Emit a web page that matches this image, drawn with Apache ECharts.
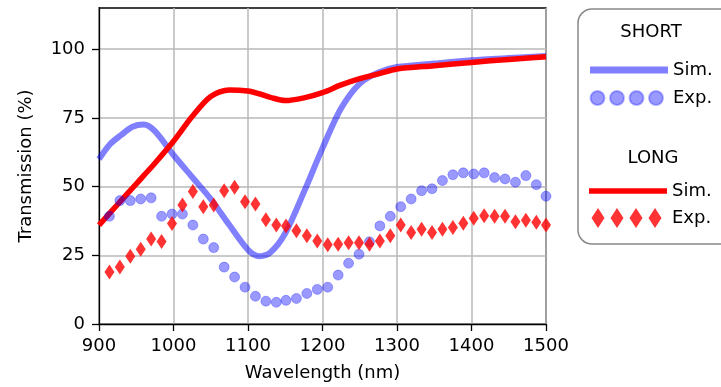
<!DOCTYPE html>
<html>
<head>
<meta charset="utf-8">
<script src="https://cdn.jsdelivr.net/npm/echarts@6/dist/echarts.min.js"></script>
<style>
  html, body { margin: 0; padding: 0; background: #fff; }
  #chart { width: 721px; height: 387px; }
</style>
</head>
<body>
<div id="chart"></div>
<script>
// measured points (nm)
const expWavelength = [914, 928, 942, 956, 970, 984, 998, 1012, 1026, 1040, 1054, 1068, 1082, 1096, 1110,
  1124, 1138, 1151, 1165, 1179, 1193, 1207, 1221, 1235, 1249, 1263, 1277, 1291, 1305, 1319, 1333, 1347,
  1361, 1375, 1389, 1403, 1417, 1431, 1445, 1459, 1473, 1487, 1500];
const shortExp = [39.2, 44.9, 44.9, 45.5, 45.9, 39.2, 40.0, 40.0, 36.0, 30.9, 27.8, 20.7, 17.1, 13.4, 10.1,
  8.3, 7.9, 8.6, 9.3, 11.1, 12.6, 13.4, 17.8, 22.1, 25.4, 29.9, 35.7, 39.2, 42.7, 45.5, 48.5, 49.2,
  52.2, 54.3, 55.0, 54.6, 55.0, 53.3, 52.8, 51.6, 54.0, 50.7, 46.5];
const longExp = [18.9, 20.7, 24.7, 27.2, 30.9, 30.0, 36.6, 43.3, 48.2, 42.7, 43.3, 48.5, 49.8, 44.5, 43.7,
  37.9, 36.0, 35.7, 33.9, 32.1, 30.2, 28.8, 29.0, 29.6, 29.6, 29.0, 30.2, 32.1, 36.0, 33.3, 34.5, 33.3,
  34.5, 35.1, 36.7, 38.5, 39.4, 39.2, 39.2, 37.2, 37.8, 37.0, 36.0];

// simulated curves
const simWavelength = [900, 915, 930, 945, 960, 975, 1000, 1025, 1050, 1075, 1100, 1115, 1130, 1150,
  1175, 1200, 1225, 1250, 1275, 1300, 1350, 1400, 1450, 1500];
const shortSim = [60, 65.5, 68.8, 71.8, 72.6, 70.2, 61.5, 53.5, 45.5, 36, 27, 24.7, 26, 33,
  48, 64, 78.5, 87.5, 91.5, 93.5, 94.8, 96, 96.8, 97.5];
const longSim = [36, 40.5, 45, 49.5, 54, 58.5, 66.5, 75.5, 82.8, 85.2, 84.8, 83.8, 82.5, 81.3,
  82.3, 84.2, 87, 89.3, 91, 92.8, 94, 95.2, 96.3, 97.3];

const xTicks = [900, 1000, 1100, 1200, 1300, 1400, 1500];
const yTicks = [0, 25, 50, 75, 100];

const FONT = 'DejaVu Sans';
const BLUE = 'rgba(0,0,255,0.5)';
const RED = '#ff0000';

const pair = (xs, ys) => xs.map((x, i) => [x, ys[i]]);

// legend handles, 78x20 box
const lineIcon = h => `path://M0,0M78,20M0,${10 - h / 2}h78v${h}h-78z`;
const circlesIcon = 'path://M0,0M78,20' + [7.5, 27, 46.5, 66]
  .map(c => `M${c - 7},10a7,7 0 1,0 14,0a7,7 0 1,0 -14,0`).join('');
const diamondsIcon = 'path://M0,0M78,20' + [9, 28, 47, 66]
  .map(c => `M${c - 6.5},10L${c},0L${c + 6.5},10L${c},20Z`).join('');

const axisLine = { lineStyle: { color: '#000', width: 1.3 } };
const labelStyle = { fontFamily: FONT, fontSize: 18, color: '#000' };
const gridLine = { show: true, lineStyle: { color: '#b8b8b8', width: 1.5 } };

const legendBase = {
  left: 589,
  orient: 'vertical',
  itemWidth: 78,
  itemHeight: 20,
  itemGap: 7,
  padding: 0,
  selectedMode: false,
  textStyle: labelStyle,
  formatter: n => n.split(' ')[1]
};

const chart = echarts.init(document.getElementById('chart'));
chart.setOption({
  animation: false,
  grid: { left: 99, right: 175, top: 8, bottom: 62, show: true, borderColor: '#000', borderWidth: 1.3 },
  xAxis: {
    type: 'value',
    min: 900,
    max: 1500,
    interval: 100,
    name: 'Wavelength (nm)',
    nameLocation: 'middle',
    nameGap: 40,
    nameTextStyle: labelStyle,
    axisLine,
    axisTick: { length: 7, lineStyle: axisLine.lineStyle },
    axisLabel: { ...labelStyle, margin: 13, customValues: xTicks, formatter: v => String(v) },
    splitLine: gridLine
  },
  yAxis: {
    type: 'value',
    min: 0,
    max: 115,
    interval: 25,
    name: 'Transmission (%)',
    nameLocation: 'middle',
    nameGap: 64,
    nameTextStyle: labelStyle,
    axisLine,
    axisTick: { length: 7, lineStyle: axisLine.lineStyle, customValues: yTicks },
    axisLabel: { ...labelStyle, margin: 14, customValues: yTicks },
    splitLine: gridLine
  },
  legend: [
    { ...legendBase, top: 60, data: [
      { name: 'SHORT Sim.', icon: lineIcon(7) },
      { name: 'SHORT Exp.', icon: circlesIcon }
    ] },
    { ...legendBase, top: 181, data: [
      { name: 'LONG Sim.', icon: lineIcon(5.5) },
      { name: 'LONG Exp.', icon: diamondsIcon }
    ] }
  ],
  graphic: [
    { type: 'rect', z: 1, shape: { x: 578, y: 9, width: 170, height: 235, r: 14 },
      style: { fill: '#fff', stroke: '#888', lineWidth: 1.5 } },
    { type: 'text', z: 5, x: 651, y: 32,
      style: { text: 'SHORT', align: 'center', verticalAlign: 'middle', font: '18px "DejaVu Sans"', fill: '#000' } },
    { type: 'text', z: 5, x: 653, y: 158,
      style: { text: 'LONG', align: 'center', verticalAlign: 'middle', font: '18px "DejaVu Sans"', fill: '#000' } }
  ],
  series: [
    {
      name: 'SHORT Sim.', type: 'line', data: pair(simWavelength, shortSim),
      smooth: 0.3, symbol: 'none', z: 2,
      lineStyle: { color: BLUE, width: 6 }, itemStyle: { color: BLUE }
    },
    {
      name: 'LONG Sim.', type: 'line', data: pair(simWavelength, longSim),
      smooth: 0.3, symbol: 'none', z: 3,
      lineStyle: { color: RED, width: 5.5 }, itemStyle: { color: RED }
    },
    {
      name: 'SHORT Exp.', type: 'scatter', data: pair(expWavelength, shortExp),
      symbol: 'circle', symbolSize: 10, z: 4,
      itemStyle: { color: BLUE, borderColor: 'rgba(0,0,255,0.35)', borderWidth: 1 }
    },
    {
      name: 'LONG Exp.', type: 'scatter', data: pair(expWavelength, longExp),
      symbol: 'diamond', symbolSize: [10, 15], z: 5,
      itemStyle: { color: RED }
    }
  ]
});
</script>
</body>
</html>
